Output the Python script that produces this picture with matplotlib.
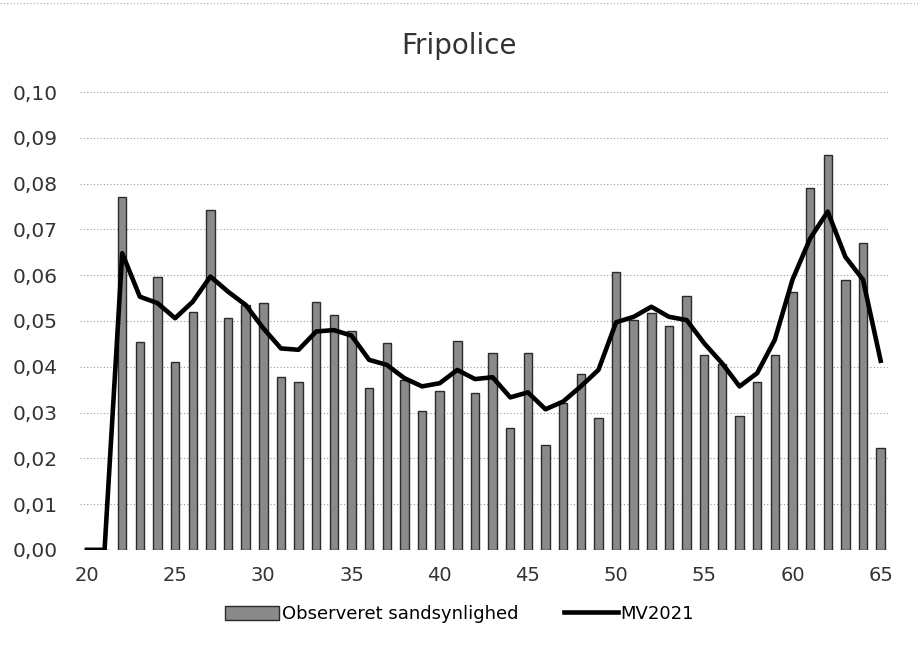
import matplotlib
matplotlib.use("Agg")
import matplotlib.pyplot as plt
from matplotlib.lines import Line2D
from matplotlib.ticker import FuncFormatter

# ages 20..65
ages = list(range(20, 66))

# observed probability (bars), 20 and 21 are empty
observed = [
    0.0, 0.0, 0.0771, 0.0455, 0.0595, 0.0411, 0.0520, 0.0742, 0.0507, 0.0535,
    0.0539, 0.0377, 0.0366, 0.0541, 0.0512, 0.0478, 0.0353, 0.0451, 0.0371, 0.0304,
    0.0347, 0.0456, 0.0343, 0.0429, 0.0266, 0.0431, 0.0229, 0.0320, 0.0384, 0.0288,
    0.0608, 0.0501, 0.0518, 0.0489, 0.0555, 0.0426, 0.0406, 0.0293, 0.0366, 0.0426,
    0.0564, 0.0790, 0.0862, 0.0590, 0.0671, 0.0223,
]

# MV2021 model curve
mv2021 = [
    0.0, 0.0, 0.0648, 0.0553, 0.0539, 0.0506, 0.0542, 0.0597, 0.0564, 0.0535,
    0.0484, 0.0440, 0.0437, 0.0477, 0.0480, 0.0468, 0.0415, 0.0404, 0.0375, 0.0357,
    0.0364, 0.0393, 0.0373, 0.0377, 0.0333, 0.0344, 0.0307, 0.0324, 0.0357, 0.0393,
    0.0497, 0.0509, 0.0531, 0.0509, 0.0502, 0.0451, 0.0408, 0.0357, 0.0386, 0.0459,
    0.0590, 0.0680, 0.0739, 0.0640, 0.0590, 0.0413,
]

xticks = [20, 25, 30, 35, 40, 45, 50, 55, 60, 65]
yticks = [0.00, 0.01, 0.02, 0.03, 0.04, 0.05, 0.06, 0.07, 0.08, 0.09, 0.10]

fig = plt.figure(figsize=(9.18, 6.53), dpi=100)
ax = fig.add_axes([0.087, 0.158, 0.880, 0.701])

bars = ax.bar(ages, observed, width=0.48, color='#8a8a8a',
              edgecolor='#2b2b2b', linewidth=1.0, zorder=2,
              label='Observeret sandsynlighed')
line, = ax.plot(ages, mv2021, color='black', linewidth=3.3, zorder=3,
                solid_joinstyle='round', label='MV2021')

ax.set_xlim(19.6, 65.4)
ax.set_ylim(0, 0.10)
ax.set_xticks(xticks)
ax.set_yticks(yticks)
ax.yaxis.set_major_formatter(FuncFormatter(lambda v, _: f'{v:.2f}'.replace('.', ',')))
ax.tick_params(axis='x', length=0, labelsize=14, colors='#333333', pad=12)
ax.tick_params(axis='y', length=0, labelsize=14.5, colors='#333333', pad=16)
ax.grid(axis='y', linestyle=(0, (1, 2)), color='#999999', linewidth=0.8, zorder=0)
for s in ax.spines.values():
    s.set_visible(False)

fig.text(0.5, 0.93, 'Fripolice', ha='center', va='center', fontsize=20, color='#333333')

# faint dotted chart border at the top edge
fig.add_artist(Line2D([0.0, 1.0], [0.996, 0.996], transform=fig.transFigure,
                      color='#aaaaaa', linestyle=(0, (1, 2)), linewidth=0.8))

ax.legend(handles=[bars, line], loc='upper center', bbox_to_anchor=(0.47, -0.085),
          ncol=2, frameon=False, fontsize=13, handlelength=3.0, handleheight=0.8,
          columnspacing=2.5, handletextpad=0.15)

fig.savefig('out.png', dpi=100, facecolor='white')
